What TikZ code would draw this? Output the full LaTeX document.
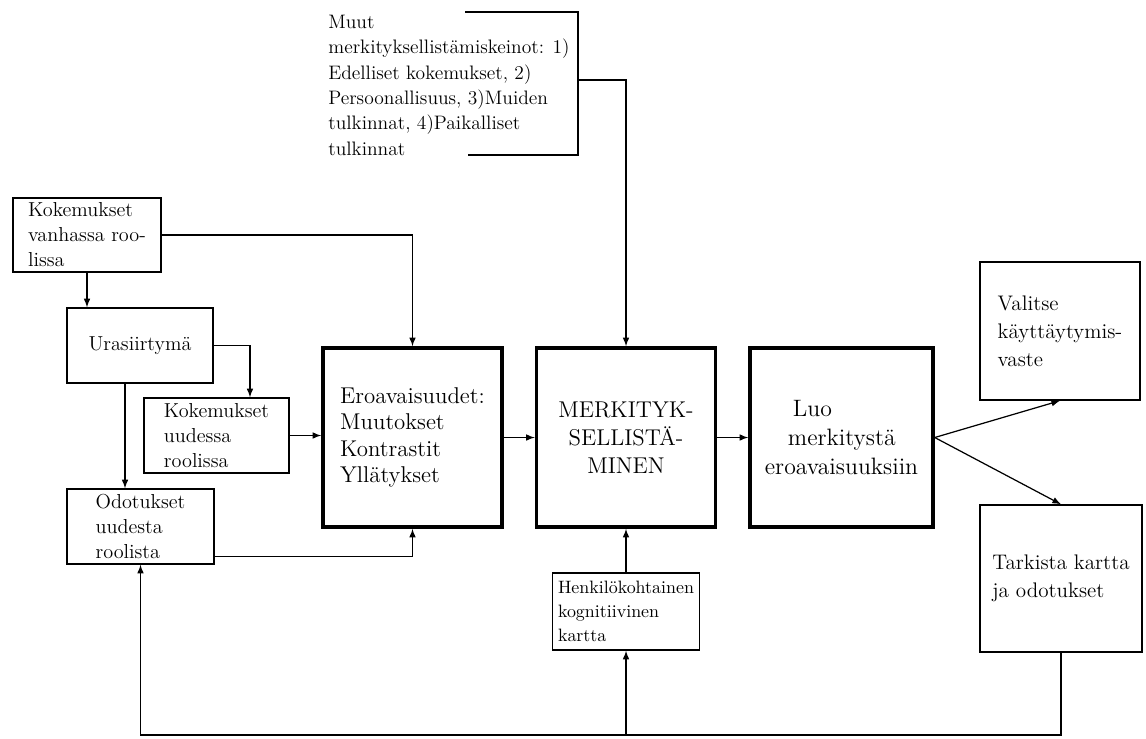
\documentclass[tikz,border=0pt]{standalone}
\usepackage{tikz}
\usepackage{amsmath}
\usepackage{xcolor}
\usetikzlibrary{shapes,arrows,positioning,calc}

\tikzset{
  box/.style={draw, line width=0.8pt, align=left, inner xsep=2pt, inner ysep=1pt},
  bigbox/.style={draw, line width=2pt, minimum width=3.58cm, minimum height=3.58cm},
  arr/.style={->, >=latex, line width=0.7pt},
}

\begin{document}
\begin{tikzpicture}[x=0.02cm, y=-0.02cm, font=\fontsize{11.5}{14.2}\selectfont]
    \useasboundingbox (0,0) rectangle (1146,738);
    % top: other means
    \node[align=left, inner sep=0pt, anchor=north west, font=\fontsize{11.1}{14.4}\selectfont] (muut) at (328,15)
        {Muut\\merkityksellistämiskeinot: 1)\\Edelliset kokemukset, 2)\\Persoonallisuus, 3)Muiden\\tulkinnat, 4)Paikalliset\\tulkinnat};
    \draw[line width=0.8pt] (465,12) -| (578,155) -- (468,155);
    \coordinate (muutout) at (578,80);
    % left column
    \node[box, minimum width=2.96cm, minimum height=1.48cm] (vanha) at (87,235) {Kokemukset\\vanhassa roo-\\lissa};
    \node[box, minimum width=2.92cm, minimum height=1.5cm] (uras) at (140,345.5) {Urasiirtymä};
    \node[box, minimum width=2.9cm, minimum height=1.5cm] (uudessa) at (216.5,435.5) {Kokemukset\\uudessa\\roolissa};
    \node[box, minimum width=2.94cm, minimum height=1.5cm] (odot) at (140.5,526.5) {Odotukset\\uudesta\\roolista};
    % main chain
    \node[bigbox, align=left, font=\fontsize{13}{15}\selectfont] (ero) at (412.5,437.5) {Eroavaisuudet:\\Muutokset\\Kontrastit\\Yllätykset};
    \node[bigbox, align=center, font=\fontsize{13}{16}\selectfont] (merk) at (626,437.5) {MERKITYK-\\SELLISTÄ-\\MINEN};
    \node[bigbox, minimum width=3.66cm, align=left, font=\fontsize{13.5}{16.5}\selectfont] (luo) at (841.5,437.5)
        {\hspace*{0.56cm}Luo\\\hspace*{0.46cm}merkitystä\\eroavaisuuksiin};
    % right column
    \node[box, minimum width=3.2cm, minimum height=2.76cm, font=\fontsize{12}{16}\selectfont] (valitse) at (1060,331) {Valitse\\käyttäytymis-\\vaste};
    \node[box, minimum width=3.24cm, minimum height=2.94cm, font=\fontsize{12}{16}\selectfont] (tark) at (1061,578.5) {Tarkista kartta\\ja odotukset};
    % bottom
    \node[box, minimum width=2.94cm, minimum height=1.54cm, font=\fontsize{10.2}{13.5}\selectfont] (henk) at (626,611.5) {Henkilökohtainen\\kognitiivinen\\kartta};
    \coordinate (bot) at (0,735);

    \draw[arr] (muutout) -| (merk.north);
    \draw[arr] (vanha.east) -| (ero.north);
    \draw[arr] (vanha.south) -- (vanha.south |- uras.north);
    \draw[arr] (uras.east) -| ([xshift=0.67cm]uudessa.north);
    \draw[arr] ([xshift=-0.3cm]uras.south) -- ([xshift=-0.3cm]uras.south |- odot.north);
    \draw[arr] (uudessa.east) -- (uudessa.east -| ero.west);
    \draw[arr] ([yshift=-0.6cm]odot.east) -| (ero.south);
    \draw[arr] (ero) -- (merk);
    \draw[arr] (merk) -- (luo);
    \draw[arr] (luo.east) -- (valitse.south);
    \draw[arr] (luo.east) -- (tark.north);
    \draw[arr] (henk) -- (merk);
    \draw[arr] (tark.south) -- (tark.south |- bot) -| (odot.south);
    \draw[arr] (henk.south |- bot) -- (henk.south);
\end{tikzpicture}
\end{document}
